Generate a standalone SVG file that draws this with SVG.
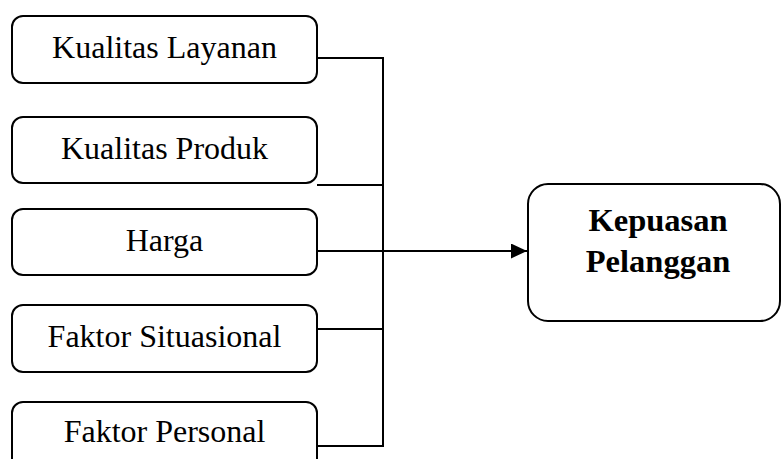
<svg xmlns="http://www.w3.org/2000/svg" width="782" height="459" viewBox="0 0 782 459">
<style>
.box{fill:#fff;stroke:#000;stroke-width:2}
.t{font-family:"Liberation Serif","Times New Roman",serif;font-size:32px;text-anchor:middle;fill:#000}
.b{font-family:"Liberation Serif","Times New Roman",serif;font-size:32.5px;font-weight:bold;text-anchor:middle;fill:#000}
.c{fill:none;stroke:#000;stroke-width:2}
</style>
<defs>
<marker id="ah" markerWidth="17" markerHeight="16" refX="16" refY="7.5" orient="auto" markerUnits="userSpaceOnUse">
<path d="M0,0 L16,7.5 L0,15 Z" fill="#000"/>
</marker>
</defs>
<rect width="782" height="459" fill="#fff"/>
<g id="connectors">
<path class="c" d="M317,58 H383 V446 H317"/>
<path class="c" d="M317,185 H383"/>
<path class="c" d="M317,329 H383"/>
<path class="c" d="M310,251 H527" marker-end="url(#ah)"/>
</g>
<g id="kualitas-layanan">
<rect class="box" x="12" y="16" width="305" height="67" rx="11"/>
<text class="t" x="164.5" y="58">Kualitas Layanan</text>
</g>
<g id="kualitas-produk">
<rect class="box" x="12" y="117" width="305" height="66" rx="11"/>
<text class="t" x="164.5" y="159">Kualitas Produk</text>
</g>
<g id="harga">
<rect class="box" x="12" y="209" width="305" height="66" rx="11"/>
<text class="t" x="164.5" y="251">Harga</text>
</g>
<g id="faktor-situasional">
<rect class="box" x="12" y="305" width="305" height="67" rx="11"/>
<text class="t" x="164.5" y="347">Faktor Situasional</text>
</g>
<g id="faktor-personal">
<rect class="box" x="12" y="402" width="305" height="67" rx="11"/>
<text class="t" x="164.5" y="442">Faktor Personal</text>
</g>
<g id="kepuasan-pelanggan">
<rect class="box" x="528" y="184" width="252" height="137" rx="20"/>
<text class="b" x="658" y="231">Kepuasan</text>
<text class="b" x="658" y="272">Pelanggan</text>
</g>
</svg>
